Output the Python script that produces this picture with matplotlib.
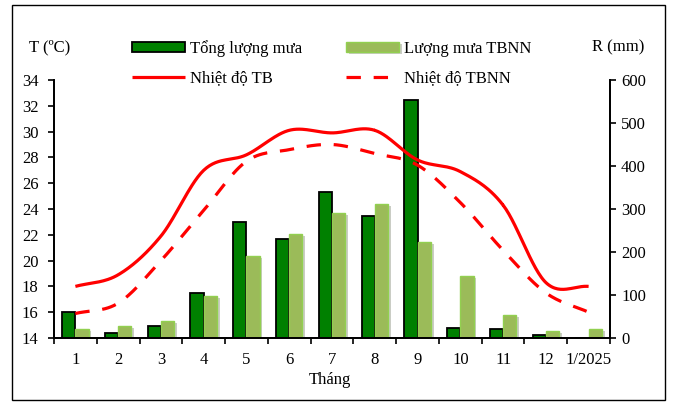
"""Climate chart: monthly rainfall bars and temperature curves."""

import numpy as np
import matplotlib

matplotlib.use("Agg")
import matplotlib.pyplot as plt
import matplotlib.patheffects as pe
from matplotlib.patches import Rectangle

plt.rcParams["font.family"] = ["Liberation Serif", "DejaVu Serif"]
plt.rcParams["font.size"] = 12

months = ["1", "2", "3", "4", "5", "6", "7", "8", "9", "10", "11", "12", "1/2025"]
rain_total = [61, 11, 28, 104, 269, 231, 340, 284, 553, 24, 20, 7, 0]
rain_normal = [22, 29, 40, 98, 191, 243, 290, 312, 224, 144, 53, 17, 22]
temp_mean = [18.0, 18.9, 21.9, 27.0, 28.2, 30.1, 29.9, 30.1, 27.8, 26.9, 24.3, 18.3, 18.0]
temp_normal = [15.9, 16.7, 20.0, 23.9, 27.7, 28.6, 29.0, 28.3, 27.4, 24.5, 20.8, 17.5, 16.0]

DARK = "#008000"
LIGHT = "#9BBB59"
LIGHT_EDGE = "#92D050"
RED = "#FF0000"


def smooth(x, y, steps=30):
    """Catmull-Rom curve through the points, like Excel's smoothed line."""
    x = np.asarray(x, float)
    y = np.asarray(y, float)
    px = np.concatenate([[2 * x[0] - x[1]], x, [2 * x[-1] - x[-2]]])
    py = np.concatenate([[2 * y[0] - y[1]], y, [2 * y[-1] - y[-2]]])
    xs, ys = [], []
    t = np.linspace(0, 1, steps)
    for i in range(1, len(px) - 2):
        for p, out in ((px, xs), (py, ys)):
            p0, p1, p2, p3 = p[i - 1], p[i], p[i + 1], p[i + 2]
            out.append(0.5 * ((2 * p1) + (-p0 + p2) * t
                              + (2 * p0 - 5 * p1 + 4 * p2 - p3) * t ** 2
                              + (-p0 + 3 * p1 - 3 * p2 + p3) * t ** 3))
    return np.concatenate(xs), np.concatenate(ys)


fig = plt.figure(figsize=(6.73, 4.03), dpi=100)
ax = fig.add_axes([54 / 673, 1 - 338 / 403, 556 / 673, 258 / 403])
ax2 = ax.twinx()

x = np.arange(len(months))
w = 0.31
ax2.bar(x - w / 2, rain_total, w, color=DARK, edgecolor="black",
        linewidth=1.3, label="Tổng lượng mưa")
ax2.bar(x + w / 2, rain_normal, w, color=LIGHT, edgecolor=LIGHT_EDGE,
        linewidth=1.0, label="Lượng mưa TBNN",
        path_effects=[pe.SimplePatchShadow(offset=(2, -1.5), alpha=0.25),
                      pe.Normal()])
ax2.set_ylim(0, 600)
ax2.set_yticks(range(0, 601, 100))

sx, sy = smooth(x, temp_mean)
ax.plot(sx, sy, color=RED, linewidth=2.3, label="Nhiệt độ TB",
        solid_capstyle="butt")
nx, ny = smooth(x, temp_normal)
ax.plot(nx, ny, color=RED, linewidth=2.3, dashes=(4.5, 4),
        label="Nhiệt độ TBNN")
ax.set_ylim(14, 34)
ax.set_yticks(range(14, 35, 2))
ax.set_xlim(-0.5, len(months) - 0.5)
ax.set_xticks(x)
ax.set_xticklabels(months)
ax.set_xticks(np.arange(-0.5, len(months)), minor=True)
ax.tick_params(axis="x", which="major", length=0, pad=10)
ax.tick_params(axis="x", which="minor", length=4, width=1.2, direction="out")
ax.tick_params(axis="y", length=4, width=1.2, direction="out", pad=7)
ax2.tick_params(axis="y", length=4, width=1.2, direction="out", pad=4)

ax.set_zorder(ax2.get_zorder() + 1)
ax.patch.set_visible(False)
for a in (ax, ax2):
    a.spines["top"].set_visible(False)
    for side in ("left", "right", "bottom"):
        a.spines[side].set_linewidth(1.3)

fig.text(330 / 673, 1 - 380 / 403, "Tháng", ha="center", va="center")
fig.text(50 / 673, 1 - 47 / 403, "T (ºC)", ha="center", va="center")
fig.text(618 / 673, 1 - 47 / 403, "R (mm)", ha="center", va="center")

h1, l1 = ax2.get_legend_handles_labels()
h2, l2 = ax.get_legend_handles_labels()
handles = [h1[0], h2[0], h1[1], h2[1]]
labels = [l1[0], l2[0], l1[1], l2[1]]
fig.legend(handles, labels, ncol=2, frameon=False,
           loc="upper left", bbox_to_anchor=(132 / 673, 1 - 40 / 403),
           handlelength=3.2, handleheight=0.55, columnspacing=2.6,
           labelspacing=0.8, handletextpad=0.3, borderaxespad=0,
           borderpad=0)

fig.patches.append(Rectangle((12 / 673, 1 - 400 / 403), 653 / 673, 395 / 403,
                             transform=fig.transFigure, fill=False,
                             edgecolor="black", linewidth=1.0))

fig.savefig("out.png", dpi=100)
